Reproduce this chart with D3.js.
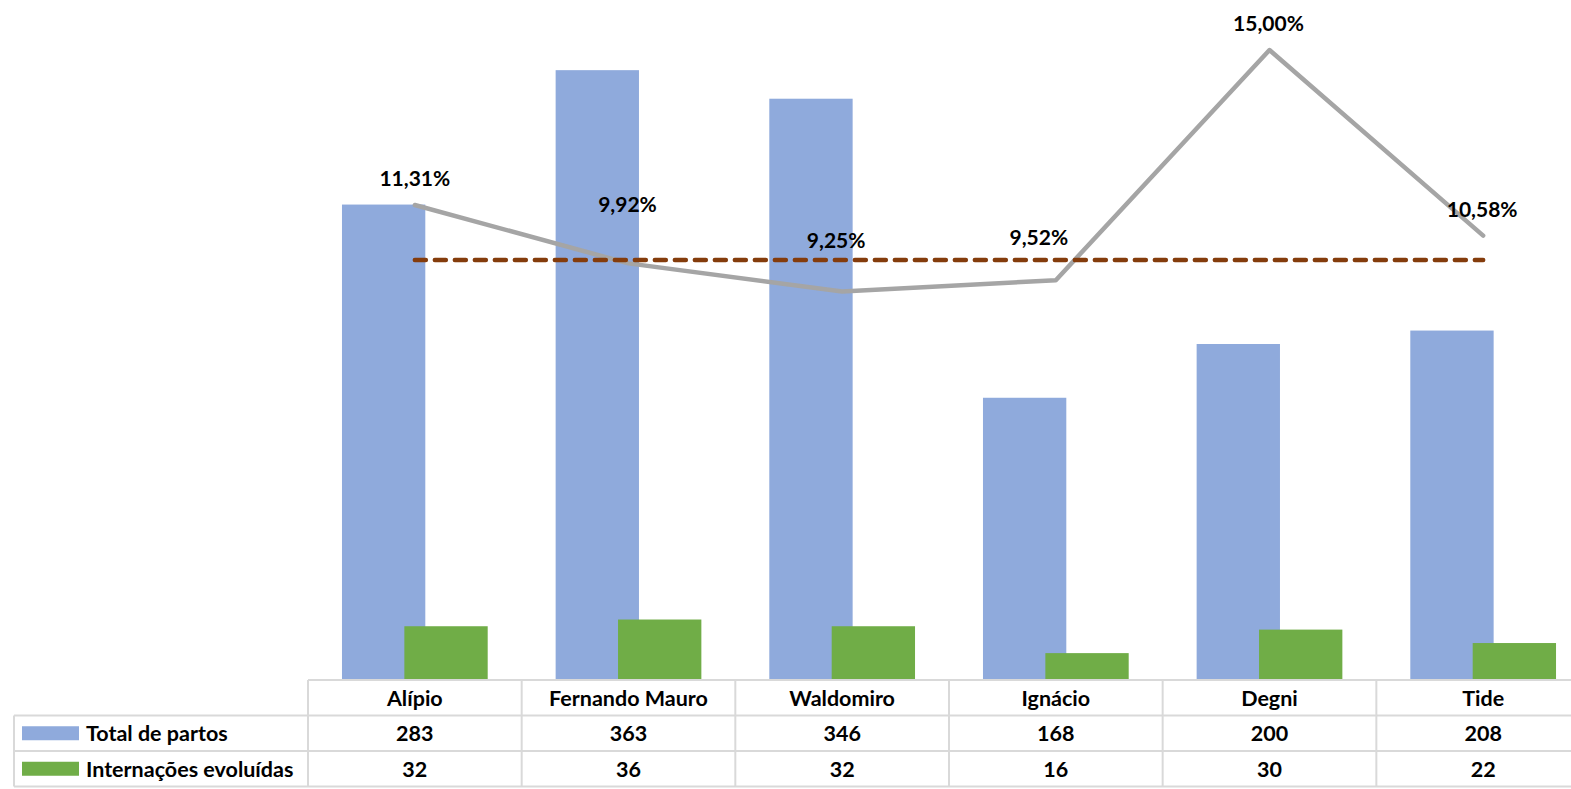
<!DOCTYPE html>
<html>
<head>
<meta charset="utf-8">
<script src="https://cdn.jsdelivr.net/npm/d3@7"></script>
<style>
  body { margin: 0; background: #fff; }
  svg { display: block; font-family: Lato, "Open Sans", sans-serif; }
</style>
</head>
<body>
<div class="chart"></div>
<script>
const units = ["Alípio", "Fernando Mauro", "Waldomiro", "Ignácio", "Degni", "Tide"];
const totalPartos = [283, 363, 346, 168, 200, 208];
const internacoes = [32, 36, 32, 16, 30, 22];
const taxa = [11.31, 9.92, 9.25, 9.52, 15.0, 10.58];
const meta = [10, 10, 10, 10, 10, 10];
const seriesNames = ["Total de partos", "Internações evoluídas"];

// label nudges (px) for the percentage labels, as placed in the original
const labelDx = [0, -1, -6, -17, -1, -1];
const labelDy = [-27, -60, -52, -44, -28, -27];

const width = 1571;
const height = 789;
const plotLeft = 308;
const plotRight = 1590;
const plotTop = 8;
const baseY = 680;
const rowH = 35.5;

const svg = d3
  .select(".chart")
  .append("svg")
  .attr("width", width)
  .attr("height", height);

const x = d3.scaleBand().domain(units).range([plotLeft, plotRight]).padding(0);
const yBars = d3.scaleLinear().domain([0, 400]).range([baseY, plotTop]);
const yPct = d3.scaleLinear().domain([0, 16]).range([baseY, plotTop]);

const barW = x.bandwidth() * 0.39;
const shift = x.bandwidth() * 0.146;
const cx = (d) => x(d) + x.bandwidth() / 2;

// bars
svg
  .selectAll(".bar-total")
  .data(units)
  .enter()
  .append("rect")
  .attr("class", "bar-total")
  .attr("x", (d) => cx(d) - shift - barW / 2)
  .attr("y", (d, i) => yBars(totalPartos[i]))
  .attr("width", barW)
  .attr("height", (d, i) => baseY - yBars(totalPartos[i]))
  .attr("fill", "#8FAADC");

svg
  .selectAll(".bar-int")
  .data(units)
  .enter()
  .append("rect")
  .attr("class", "bar-int")
  .attr("x", (d) => cx(d) + shift - barW / 2)
  .attr("y", (d, i) => yBars(internacoes[i]))
  .attr("width", barW)
  .attr("height", (d, i) => baseY - yBars(internacoes[i]))
  .attr("fill", "#70AD47");

// rate line
const line = d3
  .line()
  .x((d, i) => cx(units[i]))
  .y((d) => yPct(d));

svg
  .append("path")
  .datum(taxa)
  .attr("d", line)
  .attr("fill", "none")
  .attr("stroke", "#A5A5A5")
  .attr("stroke-width", 4.5)
  .attr("stroke-linecap", "round")
  .attr("stroke-linejoin", "round");

svg
  .append("path")
  .datum(meta)
  .attr("d", line)
  .attr("fill", "none")
  .attr("stroke", "#843C0C")
  .attr("stroke-width", 4.5)
  .attr("stroke-linecap", "round")
  .attr("stroke-dasharray", "11 9");

svg
  .selectAll(".pct-label")
  .data(taxa)
  .enter()
  .append("text")
  .attr("class", "pct-label")
  .attr("x", (d, i) => cx(units[i]) + labelDx[i])
  .attr("y", (d, i) => yPct(d) + labelDy[i])
  .attr("text-anchor", "middle")
  .attr("dominant-baseline", "central")
  .style("font-size", "21px")
  .style("font-weight", "bold")
  .text((d) => d.toFixed(2).replace(".", ",") + "%");

// data table
const grid = svg.append("g").attr("stroke", "#D9D9D9").attr("stroke-width", 2);
const tableLeft = 14;
const rowsY = [baseY, baseY + rowH, baseY + rowH * 2, baseY + rowH * 3];

grid.append("line").attr("x1", plotLeft).attr("x2", width).attr("y1", rowsY[0]).attr("y2", rowsY[0]);
rowsY.slice(1).forEach((y) => {
  grid.append("line").attr("x1", tableLeft).attr("x2", width).attr("y1", y).attr("y2", y);
});
grid.append("line").attr("x1", tableLeft).attr("x2", tableLeft).attr("y1", rowsY[1]).attr("y2", rowsY[3]);
units.forEach((u) => {
  grid.append("line").attr("x1", x(u)).attr("x2", x(u)).attr("y1", rowsY[0]).attr("y2", rowsY[3]);
});

const cellText = (sel) =>
  sel
    .attr("text-anchor", "middle")
    .attr("dominant-baseline", "central")
    .style("font-size", "21.5px")
    .style("font-weight", "bold");

svg
  .selectAll(".cat")
  .data(units)
  .enter()
  .append("text")
  .attr("class", "cat")
  .attr("x", cx)
  .attr("y", rowsY[0] + rowH / 2)
  .call(cellText)
  .text((d) => d);

[totalPartos, internacoes].forEach((vals, r) => {
  svg
    .selectAll(".val" + r)
    .data(vals)
    .enter()
    .append("text")
    .attr("class", "val" + r)
    .attr("x", (d, i) => cx(units[i]))
    .attr("y", rowsY[r + 1] + rowH / 2)
    .call(cellText)
    .text((d) => d);
});

// legend keys in the row headers
const keyColors = ["#8FAADC", "#70AD47"];
seriesNames.forEach((name, r) => {
  const yMid = rowsY[r + 1] + rowH / 2;
  svg
    .append("rect")
    .attr("x", 22)
    .attr("y", yMid - 7)
    .attr("width", 57)
    .attr("height", 14)
    .attr("fill", keyColors[r]);
  svg
    .append("text")
    .attr("x", 86)
    .attr("y", yMid)
    .attr("dominant-baseline", "central")
    .style("font-size", "21.5px")
    .style("font-weight", "bold")
    .text(name);
});
</script>
</body>
</html>
